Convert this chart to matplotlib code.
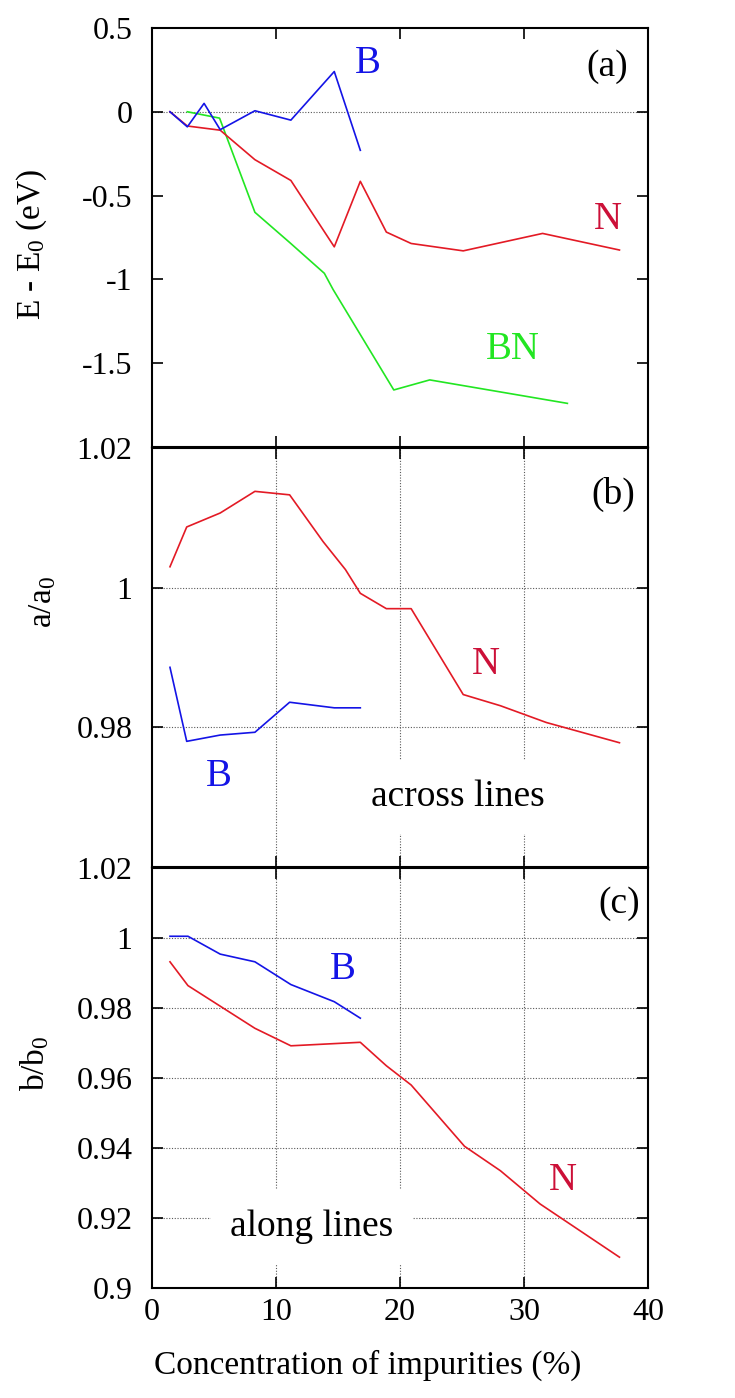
import matplotlib
matplotlib.use("Agg")
import matplotlib.pyplot as plt

plt.rcParams['font.family'] = ['Liberation Serif', 'DejaVu Serif']
plt.rcParams['mathtext.fontset'] = 'custom'
plt.rcParams['mathtext.rm'] = 'Liberation Serif'
plt.rcParams['mathtext.default'] = 'regular'
plt.rcParams['axes.unicode_minus'] = False

# panel (a): energy
x_a_B = [1.45, 2.85, 4.2, 5.5, 8.3, 11.2, 14.7, 16.8]
E_B = [0, -0.09, 0.05, -0.107, 0.006, -0.05, 0.24, -0.23]
x_a_BN = [2.85, 5.45, 8.3, 11.1, 13.9, 14.6, 19.5, 22.4, 33.5]
E_BN = [0, -0.038, -0.6, -0.78, -0.964, -1.06, -1.66, -1.60, -1.74]
x_a_N = [1.45, 2.85, 5.5, 8.3, 11.2, 14.7, 16.8, 18.9, 20.9, 25.1, 31.5, 37.7]
E_N = [0, -0.085, -0.11, -0.286, -0.41, -0.806, -0.415, -0.718, -0.786, -0.83, -0.726, -0.825]

# panel (b): a/a0 (across lines)
x_b_N = [1.45, 2.8, 5.5, 8.3, 11.1, 13.8, 15.6, 16.8, 18.9, 20.9, 25.1, 28.1, 31.8, 37.7]
a_N = [1.003, 1.0087, 1.0107, 1.0138, 1.0133, 1.0066, 1.0026, 0.9992, 0.9970, 0.9970,
       0.9847, 0.9831, 0.9807, 0.9778]
x_b_B = [1.45, 2.8, 5.5, 8.3, 11.1, 14.7, 16.8]
a_B = [0.9886, 0.9780, 0.9789, 0.9793, 0.9836, 0.9828, 0.9828]

# panel (c): b/b0 (along lines)
x_c_B = [1.45, 2.9, 5.5, 8.3, 11.2, 14.7, 16.8]
b_B = [1.0005, 1.0005, 0.9954, 0.9932, 0.9867, 0.9818, 0.9771]
x_c_N = [1.45, 2.9, 8.3, 11.2, 16.8, 18.9, 20.9, 25.2, 28.1, 31.3, 37.7]
b_N = [0.9932, 0.9864, 0.9742, 0.9692, 0.9702, 0.9635, 0.958, 0.9405, 0.9335, 0.924, 0.9088]

x_ticks = [0, 10, 20, 30, 40]

RED = '#e31a25'
RED_TXT = '#cc1038'
BLUE = '#1414e6'
GREEN = '#22e622'
GRID = dict(color='0.35', linestyle=(0, (1, 1.5)), linewidth=0.8)
LW = 1.2

fig = plt.figure(figsize=(7.35, 13.98), dpi=100)
left, width = 0.2068, 0.6748
ax_a = fig.add_axes([left, 0.6803, width, 0.2997])
ax_b = fig.add_axes([left, 0.3798, width, 0.2997])
ax_c = fig.add_axes([left, 0.0787, width, 0.3004])

for ax in (ax_a, ax_b, ax_c):
    ax.set_xlim(0, 40)
    ax.set_xticks(x_ticks)
    ax.tick_params(direction='in', top=True, right=True, length=8, width=1.2,
                   labelsize=23, pad=14)
    ax.tick_params(axis='x', pad=7)
    for s in ax.spines.values():
        s.set_linewidth(1.5)

ax_a.tick_params(labelbottom=False)
ax_b.tick_params(labelbottom=False)

# (a)
ax_a.set_ylim(-2, 0.5)
ax_a.set_yticks([0.5, 0, -0.5, -1, -1.5])
ax_a.set_yticklabels(['0.5', '0', '-0.5', '-1', '-1.5'])
ax_a.axhline(0, zorder=1, **GRID)
ax_a.plot(x_a_BN, E_BN, color=GREEN, lw=LW, zorder=3)
ax_a.plot(x_a_N, E_N, color=RED, lw=LW, zorder=3)
ax_a.plot(x_a_B, E_B, color=BLUE, lw=LW, zorder=3)
ax_a.text(17.4, 0.29, 'B', color=BLUE, fontsize=28, ha='center', va='center')
ax_a.text(36.8, -0.64, 'N', color=RED_TXT, fontsize=28, ha='center', va='center')
ax_a.text(29.1, -1.42, 'BN', color=GREEN, fontsize=28, ha='center', va='center')
ax_a.text(36.7, 0.27, '(a)', fontsize=27, ha='center', va='center')

# (b)
ax_b.set_ylim(0.96, 1.02)
ax_b.set_yticks([0.98, 1.0, 1.02])
ax_b.set_yticklabels(['0.98', '1', '1.02'])
for xv in [10, 20, 30]:
    ax_b.axvline(xv, zorder=1, **GRID)
for yv in [0.98, 1.0]:
    ax_b.axhline(yv, zorder=1, **GRID)
ax_b.plot(x_b_N, a_N, color=RED, lw=LW, zorder=3)
ax_b.plot(x_b_B, a_B, color=BLUE, lw=LW, zorder=3)
ax_b.text(26.9, 0.989, 'N', color=RED_TXT, fontsize=28, ha='center', va='center')
ax_b.text(5.4, 0.973, 'B', color=BLUE, fontsize=28, ha='center', va='center')
ax_b.text(24.7, 0.970, 'across lines', fontsize=27, ha='center', va='center', zorder=4,
          bbox=dict(facecolor='white', edgecolor='none', pad=14))
ax_b.text(37.2, 1.0134, '(b)', fontsize=27, ha='center', va='center')

# (c)
ax_c.set_ylim(0.9, 1.02)
c_ticks = [0.9, 0.92, 0.94, 0.96, 0.98, 1.0, 1.02]
ax_c.set_yticks(c_ticks)
ax_c.set_yticklabels(['%g' % t for t in c_ticks])
for xv in [10, 20, 30]:
    ax_c.axvline(xv, zorder=1, **GRID)
for yv in c_ticks[1:-1]:
    ax_c.axhline(yv, zorder=1, **GRID)
ax_c.plot(x_c_N, b_N, color=RED, lw=LW, zorder=3)
ax_c.plot(x_c_B, b_B, color=BLUE, lw=LW, zorder=3)
ax_c.text(15.4, 0.9911, 'B', color=BLUE, fontsize=28, ha='center', va='center')
ax_c.text(33.1, 0.9306, 'N', color=RED_TXT, fontsize=28, ha='center', va='center')
ax_c.text(12.9, 0.9174, 'along lines', fontsize=27, ha='center', va='center', zorder=4,
          bbox=dict(facecolor='white', edgecolor='none', pad=14))
ax_c.text(37.7, 1.0097, '(c)', fontsize=27, ha='center', va='center')

fig.text(0.5, 0.0236, 'Concentration of impurities (%)', fontsize=24,
         ha='center', va='center', transform=fig.transFigure)
fig.text(0.0435, 0.8255, 'E - E$_0$ (eV)', fontsize=24, rotation=90,
         ha='center', va='center')
fig.text(0.0585, 0.5694, 'a/a$_0$', fontsize=24, rotation=90, ha='center', va='center')
fig.text(0.0476, 0.2396, 'b/b$_0$', fontsize=24, rotation=90, ha='center', va='center')

fig.savefig('out.png', dpi=100, facecolor='white')
